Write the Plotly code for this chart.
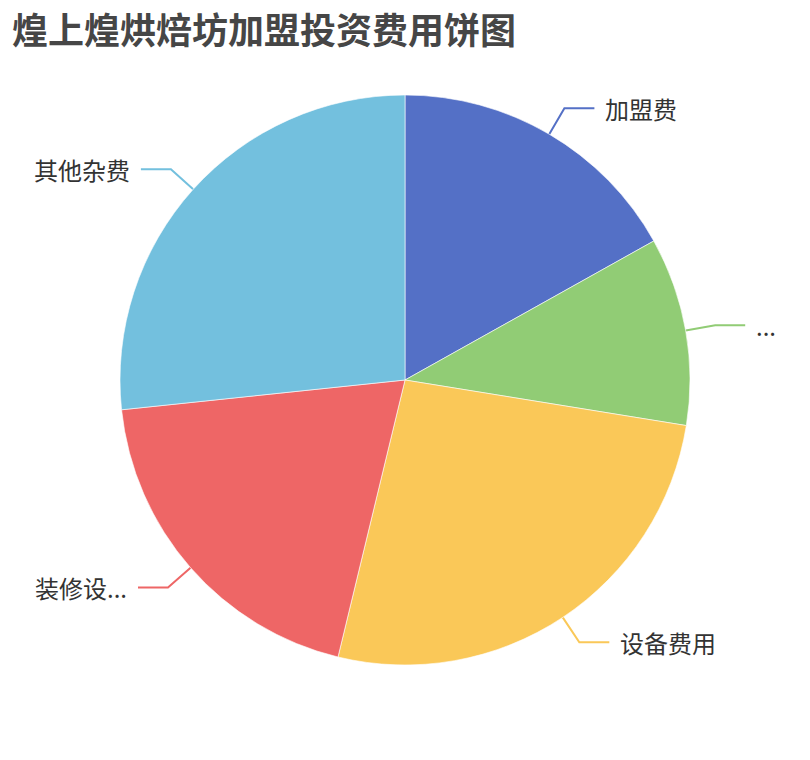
import math
import plotly.graph_objects as go

# slice data (clockwise from 12 o'clock)
labels = ["加盟费", "...", "设备费用", "装修设...", "其他杂费"]
values = [7.6, 4.8, 11.8, 8.8, 12]
colors = ["#5470c6", "#91cc75", "#fac858", "#ee6666", "#73c0de"]
title_text = "煌上煌烘焙坊加盟投资费用饼图"

W, H = 810, 760
CX, CY, R = 405, 380, 285
LEN1, LEN2, GAP = 30, 30, 9
FONT = "Noto Sans CJK SC"

fig = go.Figure()

fig.add_trace(go.Pie(
    labels=labels, values=values, sort=False, direction="clockwise", rotation=0,
    marker=dict(colors=colors, line=dict(color="white", width=0.6)),
    textinfo="none", hoverinfo="label+value+percent", showlegend=False,
    domain=dict(x=[(CX - R) / W, (CX + R) / W], y=[1 - (CY + R) / H, 1 - (CY - R) / H]),
))

# leader lines and outside labels, placed from each slice's mid angle
total = sum(values)
cum = 0
annotations = []
for lab, v, c in zip(labels, values, colors):
    mid = math.radians((cum + v / 2) / total * 360)
    cum += v
    s, co = math.sin(mid), math.cos(mid)
    sx, sy = CX + R * s, CY - R * co
    ex, ey = CX + (R + LEN1) * s, CY - (R + LEN1) * co
    right = s >= 0
    hx = ex + LEN2 if right else ex - LEN2
    fig.add_trace(go.Scatter(x=[sx, ex, hx], y=[sy, ey, ey], mode="lines",
                             line=dict(color=c, width=2), hoverinfo="skip", showlegend=False))
    annotations.append(dict(
        x=hx + GAP if right else hx - GAP, y=ey, xref="x", yref="y",
        text=lab, showarrow=False, xanchor="left" if right else "right", yanchor="middle",
        font=dict(family=FONT, size=24, color="#333333"),
    ))

annotations.append(dict(
    x=10 / W, y=1 - 28 / H, xref="paper", yref="paper",
    text="<b>" + title_text + "</b>",
    showarrow=False, xanchor="left", yanchor="middle",
    font=dict(family=FONT, size=36, color="#464646"),
))

fig.update_layout(
    width=W, height=H, margin=dict(l=0, r=0, t=0, b=0),
    paper_bgcolor="white", plot_bgcolor="white",
    xaxis=dict(range=[0, W], visible=False, fixedrange=True),
    yaxis=dict(range=[H, 0], visible=False, fixedrange=True),
    annotations=annotations, showlegend=False,
)

# drop the default page margin so the figure sits at the window's top-left corner
fig.write_html("out.html", config={"displayModeBar": False},
               post_script="document.body.style.margin='0';")
